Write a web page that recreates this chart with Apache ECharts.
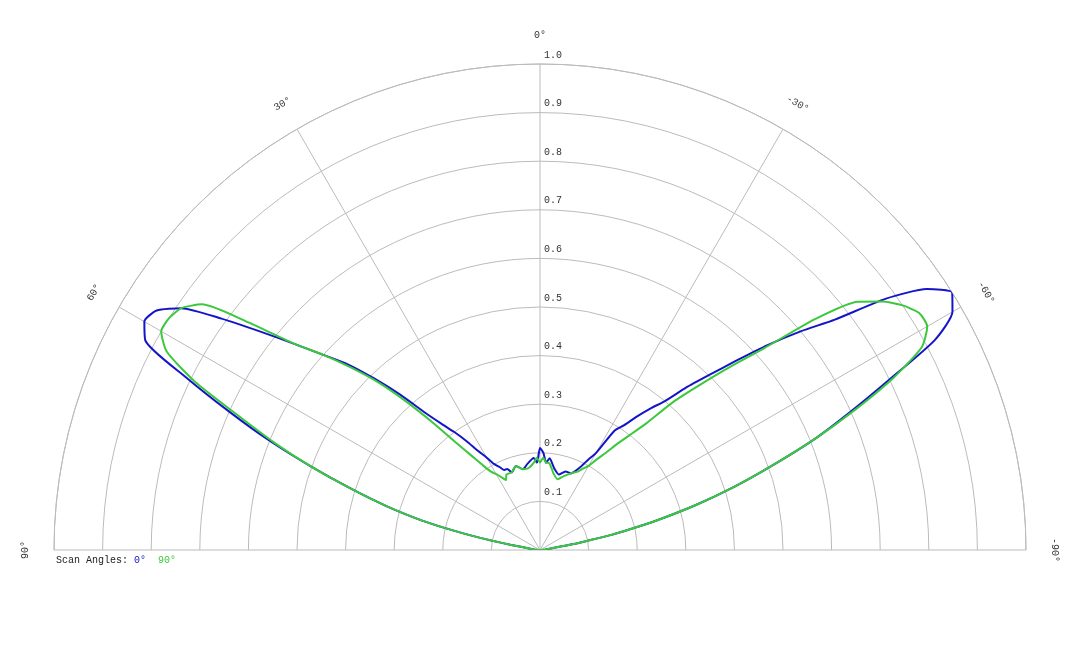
<!DOCTYPE html>
<html><head><meta charset="utf-8">
<script src="https://cdn.jsdelivr.net/npm/echarts@6/dist/echarts.min.js"></script>
<style>html,body{margin:0;background:#fff}#c{width:1080px;height:648px}</style>
</head><body><div id="c"></div>
<script>
const angles = [90,88,86,84,82,80,79,78,77,76,74,72,70,68,66,64,62,60,58,56,54,52,50,48,46,44,42,40,38,36,34,32,30,28,26,24,22,20,16,12,8,4,2,0,-2,-4,-6,-8,-10,-14,-18,-22,-26,-28,-30,-32,-34,-36,-38,-40,-42,-44,-46,-48,-50,-52,-54,-56,-58,-60,-62,-64,-66,-68,-70,-72,-74,-76,-77,-78,-79,-80,-82,-84,-86,-88,-90];
const blue = [0,0.005,0.01,0.01,0.02,0.06,0.10,0.15,0.20,0.25,0.33,0.41,0.50,0.60,0.70,0.81,0.92,0.94,0.93,0.89,0.81,0.73,0.66,0.60,0.55,0.49,0.43,0.37,0.33,0.30,0.27,0.24,0.22,0.20,0.19,0.18,0.18,0.17,0.18,0.17,0.18,0.19,0.18,0.21,0.20,0.18,0.19,0.18,0.17,0.16,0.17,0.17,0.19,0.21,0.23,0.29,0.31,0.34,0.37,0.40,0.45,0.50,0.56,0.63,0.70,0.77,0.88,0.96,1.0,0.98,0.92,0.80,0.70,0.61,0.51,0.42,0.33,0.24,0.19,0.15,0.10,0.07,0.02,0.01,0.01,0.005,0];
const green = [0,0.005,0.01,0.01,0.02,0.06,0.10,0.15,0.20,0.25,0.33,0.41,0.50,0.59,0.68,0.79,0.87,0.90,0.90,0.89,0.86,0.76,0.66,0.60,0.54,0.48,0.41,0.34,0.28,0.24,0.21,0.19,0.18,0.17,0.16,0.17,0.17,0.17,0.18,0.17,0.17,0.18,0.19,0.18,0.19,0.18,0.18,0.17,0.16,0.15,0.16,0.17,0.18,0.19,0.20,0.22,0.24,0.27,0.30,0.34,0.41,0.47,0.54,0.62,0.74,0.83,0.87,0.90,0.92,0.92,0.89,0.81,0.71,0.61,0.51,0.42,0.33,0.24,0.19,0.15,0.10,0.07,0.02,0.01,0.01,0.005,0];
const angleTicks = [90,60,30,0,-30,-60,-90];
const radiusTicks = [0.1,0.2,0.3,0.4,0.5,0.6,0.7,0.8,0.9,1.0];

const cx=540, cy=550, R=486, font='Liberation Mono';
const chart = echarts.init(document.getElementById('c'));
const graphics = [];
angleTicks.forEach(a=>{
  const t=a*Math.PI/180, rr=515;
  graphics.push({type:'text',x:cx-rr*Math.sin(t),y:cy-rr*Math.cos(t),rotation:t,
    style:{text:a+'°',font:'10px '+font,fill:'#333',align:'center',verticalAlign:'middle'}});
});
radiusTicks.forEach(r=>{
  graphics.push({type:'text',x:cx+4,y:cy-r*R-9,style:{text:r.toFixed(1),font:'10px '+font,fill:'#333',align:'left',verticalAlign:'middle'}});
});
graphics.push({type:'text',left:56,top:555,style:{rich:{a:{fill:'#222'},b:{fill:'#1515c8'},c:{fill:'#3cc83c'}},text:'{a|Scan Angles:} {b|0°}  {c|90°}',font:'10px '+font}});
chart.setOption({
  animation:false,
  polar:{center:[cx,cy],radius:R},
  angleAxis:{type:'value',min:-90,max:90,startAngle:0,endAngle:180,clockwise:false,interval:30,
    axisLine:{show:true,lineStyle:{color:'#bbb'}},axisTick:{show:false},axisLabel:{show:false},
    splitLine:{show:true,lineStyle:{color:'#bbb'}}},
  radiusAxis:{type:'value',min:0,max:1,interval:0.1,axisLine:{show:false},axisTick:{show:false},axisLabel:{show:false},
    splitLine:{show:true,lineStyle:{color:'#bbb'}}},
  series:[
    {type:'line',coordinateSystem:'polar',showSymbol:false,smooth:0.2,lineStyle:{color:'#1515c8',width:2},data:angles.map((a,i)=>[blue[i],a])},
    {type:'line',coordinateSystem:'polar',showSymbol:false,smooth:0.2,lineStyle:{color:'#3cc83c',width:2},data:angles.map((a,i)=>[green[i],a])}
  ],
  graphic:graphics
});
</script></body></html>
